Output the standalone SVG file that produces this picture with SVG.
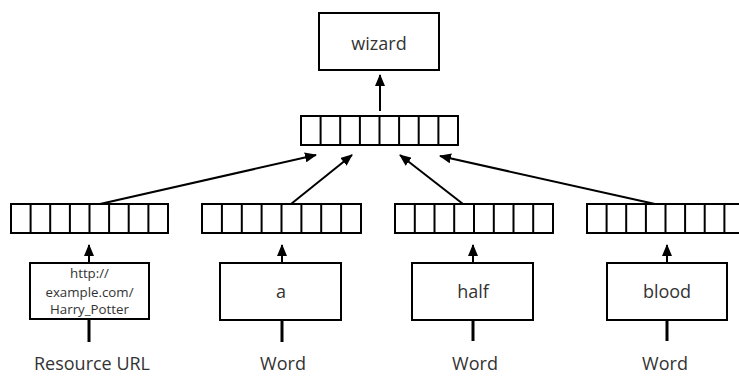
<svg xmlns="http://www.w3.org/2000/svg" width="739" height="376" viewBox="0 0 739 376">
<style>
.box{fill:#fff;stroke:#000;stroke-width:2}
.vec{fill:#fff;stroke:#000;stroke-width:2}
.div{stroke:#000;stroke-width:2;fill:none}
.lbl{font-family:"Open Sans","DejaVu Sans",sans-serif;font-size:18px;fill:#333;text-anchor:middle}
.small{font-family:"Open Sans","DejaVu Sans",sans-serif;font-size:13.3px;fill:#333;text-anchor:middle}
.arr{stroke:#000;stroke-width:2;fill:none;marker-end:url(#ah)}
.stem{stroke:#000;stroke-width:3;fill:none}
</style>
<defs>
<marker id="ah" viewBox="0 0 12 10" refX="11" refY="5" markerWidth="12" markerHeight="10" markerUnits="userSpaceOnUse" orient="auto">
<path d="M0,0 L12,5 L0,10 z" fill="#000"/>
</marker>
</defs>
<rect width="739" height="376" fill="#fff"/>
<g id="wizard">
<rect class="box" x="319" y="13" width="120" height="57"/>
<text class="lbl" x="379" y="50">wizard</text>
</g>
<g id="vec-top">
<rect class="vec" x="301" y="116" width="157" height="29"/>
<path class="div" d="M320.6,116v29M340.2,116v29M359.9,116v29M379.5,116v29M399.1,116v29M418.7,116v29M438.4,116v29"/>
</g>
<g id="vec-url">
<rect class="vec" x="11" y="204" width="157" height="29"/>
<path class="div" d="M30.6,204v29M50.2,204v29M69.9,204v29M89.5,204v29M109.1,204v29M128.7,204v29M148.4,204v29"/>
</g>
<g id="vec-a">
<rect class="vec" x="202" y="204" width="159" height="29"/>
<path class="div" d="M221.9,204v29M241.8,204v29M261.6,204v29M281.5,204v29M301.4,204v29M321.2,204v29M341.1,204v29"/>
</g>
<g id="vec-half">
<rect class="vec" x="395" y="204" width="158" height="29"/>
<path class="div" d="M414.8,204v29M434.5,204v29M454.2,204v29M474,204v29M493.8,204v29M513.5,204v29M533.2,204v29"/>
</g>
<g id="vec-blood">
<rect class="vec" x="587" y="204" width="157" height="29"/>
<path class="div" d="M606.6,204v29M626.2,204v29M645.9,204v29M665.5,204v29M685.1,204v29M704.7,204v29M724.4,204v29"/>
</g>
<g id="box-url">
<rect class="box" x="30" y="263" width="119" height="56"/>
<text class="small" x="89.5" y="278">http://</text>
<text class="small" x="89.5" y="296.5">example.com/</text>
<text class="small" x="89.5" y="314">Harry_Potter</text>
</g>
<g id="box-a">
<rect class="box" x="220" y="263" width="121" height="57"/>
<text class="lbl" x="281" y="298">a</text>
</g>
<g id="box-half">
<rect class="box" x="412" y="263" width="121" height="57"/>
<text class="lbl" x="473" y="298">half</text>
</g>
<g id="box-blood">
<rect class="box" x="607" y="263" width="120" height="57"/>
<text class="lbl" x="667" y="298">blood</text>
</g>
<g id="labels">
<text class="lbl" x="92" y="370">Resource URL</text>
<text class="lbl" x="283" y="370">Word</text>
<text class="lbl" x="475" y="370">Word</text>
<text class="lbl" x="665" y="370">Word</text>
</g>
<g id="connectors">
<line class="arr" x1="380" y1="111" x2="380" y2="75"/>
<line class="arr" x1="89" y1="263" x2="89" y2="245"/>
<line class="arr" x1="282" y1="263" x2="282" y2="245"/>
<line class="arr" x1="473" y1="263" x2="473" y2="245"/>
<line class="arr" x1="667" y1="263" x2="667" y2="245"/>
<line class="stem" x1="89" y1="319" x2="89" y2="342"/>
<line class="stem" x1="282" y1="320" x2="282" y2="342"/>
<line class="stem" x1="473" y1="320" x2="473" y2="341"/>
<line class="stem" x1="667" y1="320" x2="667" y2="341"/>
<line class="arr" x1="100" y1="204" x2="316" y2="155"/>
<line class="arr" x1="291" y1="204" x2="352" y2="155"/>
<line class="arr" x1="463" y1="204" x2="400" y2="155"/>
<line class="arr" x1="655" y1="204" x2="440" y2="156"/>
</g>
</svg>
